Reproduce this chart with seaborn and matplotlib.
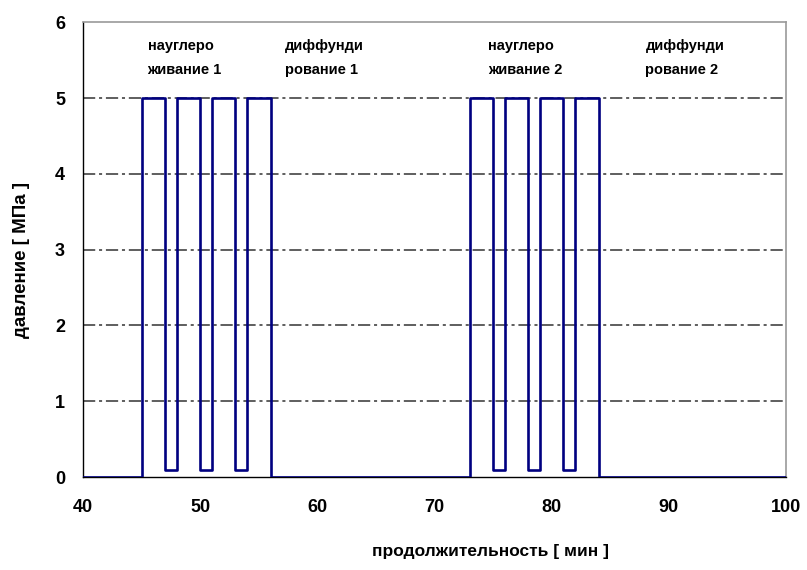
import numpy as np
import pandas as pd
import seaborn as sns
import matplotlib.pyplot as plt

# step curve: time (min) and pressure (MPa)
time = [40, 45, 45, 47, 47, 48, 48, 50, 50, 51, 51, 53, 53, 54, 54, 56, 56,
        73, 73, 75, 75, 76, 76, 78, 78, 79, 79, 81, 81, 82, 82, 84, 84, 100]
pressure = [0, 0, 5, 5, 0.1, 0.1, 5, 5, 0.1, 0.1, 5, 5, 0.1, 0.1, 5, 5, 0,
            0, 5, 5, 0.1, 0.1, 5, 5, 0.1, 0.1, 5, 5, 0.1, 0.1, 5, 5, 0, 0]

phase_labels = ["науглеро\nживание 1", "диффунди\nрование 1",
                "науглеро\nживание 2", "диффунди\nрование 2"]
phase_x = [45.5, 57.2, 74.6, 88.0]

df = pd.DataFrame({"t": time, "p": pressure})

sns.set_style("white")
plt.rcParams['font.family'] = ['Liberation Sans', 'DejaVu Sans']
plt.rcParams['text.color'] = "#000000"
plt.rcParams['axes.labelcolor'] = "#000000"

fig = plt.figure(figsize=(8.07, 5.70), dpi=100)
ax = fig.add_axes([0.103, 0.163, 0.871, 0.798])

sns.lineplot(data=df, x="t", y="p", estimator=None, sort=False,
             color="#000080", linewidth=1.9, ax=ax, zorder=3)

ax.set_xlim(40, 100)
ax.set_ylim(0, 6)
ax.set_xticks(range(40, 101, 10))
ax.set_yticks(range(0, 7))
for yv in range(1, 6):
    ax.axhline(yv, color="#333333", lw=1.1, ls=(0, (8, 2.5, 2, 2.5)), zorder=1)

for s in ["left", "bottom"]:
    ax.spines[s].set_color("#000000")
    ax.spines[s].set_linewidth(1.0)
for s in ["top", "right"]:
    ax.spines[s].set_color("#999999")
    ax.spines[s].set_linewidth(1.2)

ax.tick_params(axis="both", direction="out", length=5, width=1, colors="#000000",
               labelsize=13)
ax.tick_params(axis="x", pad=11)
ax.tick_params(axis="y", pad=8)
for lab in ax.get_xticklabels() + ax.get_yticklabels():
    lab.set_fontweight("bold")

for lx, txt in zip(phase_x, phase_labels):
    ax.text(lx, 5.53, txt, fontsize=10.5, fontweight="bold", ha="left",
            va="center", linespacing=1.95)

ax.set_xlabel("продолжительность [ мин ]", fontsize=12.5, fontweight="bold")
ax.set_ylabel("давление [ МПа ]", fontsize=13.5, fontweight="bold")
ax.xaxis.set_label_coords(0.58, -0.148)
ax.yaxis.set_label_coords(-0.075, 0.477)

fig.savefig("out.png", dpi=100)
